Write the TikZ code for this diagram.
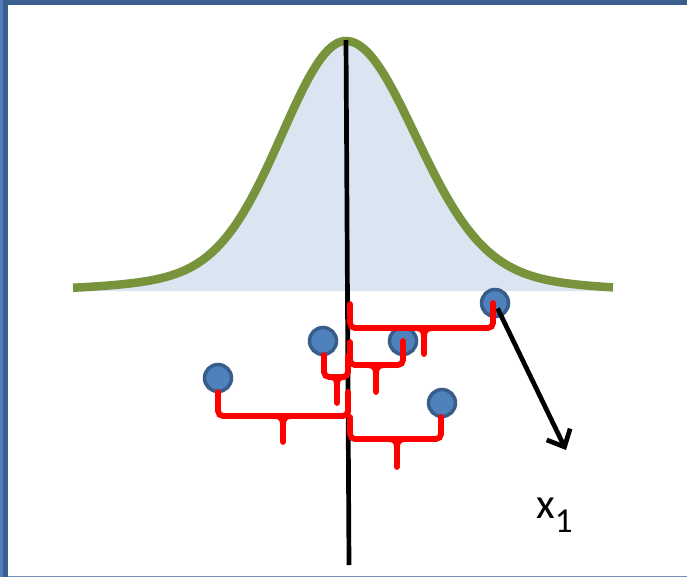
\documentclass[tikz,border=0pt]{standalone}
\usepackage{fontspec}
\setmainfont{Carlito}
\usetikzlibrary{arrows.meta}
\definecolor{curvegreen}{HTML}{77933C}
\definecolor{bellfill}{HTML}{DBE5F1}
\definecolor{ptfill}{HTML}{4F81BD}
\definecolor{ptborder}{HTML}{385D8A}
\definecolor{frameblue}{HTML}{3A5F8E}
\definecolor{framelight}{HTML}{4F7FBF}
\definecolor{framebottom}{HTML}{7090B8}
\tikzset{
  bell/.style={draw=curvegreen, line width=8.5pt},
  axisline/.style={draw=black, line width=4.7pt},
  pt/.style={circle, fill=ptfill, draw=ptborder, line width=3.5pt, minimum size=27pt, inner sep=0pt},
  bracered/.style={draw=red, line width=5.8pt, rounded corners=5pt, line cap=round},
  tipred/.style={draw=red, line width=5.8pt, line cap=round},
  arrowblack/.style={draw=black, line width=4.7pt, -{Straight Barb[length=14pt, width=26pt]}},
}
\begin{document}
\begin{tikzpicture}[x=1pt, y=-1pt]
\useasboundingbox (0,0) rectangle (687,577);
\fill[white] (0,0) rectangle (687,577);
% frame
\fill[frameblue] (0,0) rectangle (687,5);
\fill[frameblue] (0,0) rectangle (8,577);
\fill[framelight] (0,0) rectangle (3,577);
\fill[framebottom] (8,575.5) rectangle (687,577);
% bell fill and curve
\fill[bellfill]
  plot[domain=73:346, samples=90] (\x, {291 - 250*(0.9*exp(-0.5*((\x-346)/63)^2) + 0.1*exp(-0.5*((\x-346)/135)^2))})
  -- plot[domain=346:613, samples=90] (\x, {291 - 250*(0.9*exp(-0.5*((\x-346)/68)^2) + 0.1*exp(-0.5*((\x-346)/135)^2))})
  -- (613,291) -- (73,291) -- cycle;
\draw[bell]
  plot[domain=73:346, samples=90] (\x, {291 - 250*(0.9*exp(-0.5*((\x-346)/63)^2) + 0.1*exp(-0.5*((\x-346)/135)^2))})
  -- plot[domain=346:613, samples=90] (\x, {291 - 250*(0.9*exp(-0.5*((\x-346)/68)^2) + 0.1*exp(-0.5*((\x-346)/135)^2))});
% axis
\coordinate (axtop) at (346,40);
\coordinate (axbot) at (349,565);
\draw[axisline] (axtop) -- (axbot);
% points
\node[pt] (p1) at (495,303) {};
\node[pt] (p2) at (323,341) {};
\node[pt] (p3) at (403,341) {};
\node[pt] (p4) at (218,378) {};
\node[pt] (p5) at (442,403) {};
% brace 1 (axis to p1)
\draw[bracered] (350,304) -- (350,328) -- (493,328) -- (493,303);
\draw[tipred] (414,328) .. controls (423,328) and (424,331) .. (424,338) -- (424,354);
\draw[tipred] (434,328) .. controls (425,328) and (424,331) .. (424,338);
% brace 2 (axis to p3)
\draw[bracered] (350,342) -- (350,365) -- (403,365) -- (403,341);
\draw[tipred] (366,365) .. controls (375,365) and (376,368) .. (376,375) -- (376,392);
\draw[tipred] (386,365) .. controls (377,365) and (376,368) .. (376,375);
% brace 3 (p2 to axis)
\draw[bracered] (324,355) -- (324,377) -- (348,377) -- (348,356);
\draw[tipred] (330,377) .. controls (336,377) and (337,380) .. (337,386) -- (337,403);
\draw[tipred] (344,377) .. controls (338,377) and (337,380) .. (337,386);
% brace 4 (p4 to axis)
\draw[bracered] (218,392) -- (218,416) -- (348,416) -- (348,392);
\draw[tipred] (273,416) .. controls (282,416) and (283,419) .. (283,426) -- (283,442);
\draw[tipred] (293,416) .. controls (284,416) and (283,419) .. (283,426);
% brace 5 (axis to p5)
\draw[bracered] (350,417) -- (350,439) -- (441,439) -- (441,417);
\draw[tipred] (387,439) .. controls (396,439) and (397,442) .. (397,449) -- (397,467);
\draw[tipred] (407,439) .. controls (398,439) and (397,442) .. (397,449);
% arrow
\coordinate (arrend) at (566,450);
\draw[arrowblack, shorten <=6pt] (p1.center) -- (arrend);
% label
\node[anchor=base west, inner sep=0pt] (lbl) at (536,518) {\fontsize{43}{43}\selectfont x\raisebox{-14pt}{\fontsize{35}{35}\selectfont 1}};
\end{tikzpicture}
\end{document}
